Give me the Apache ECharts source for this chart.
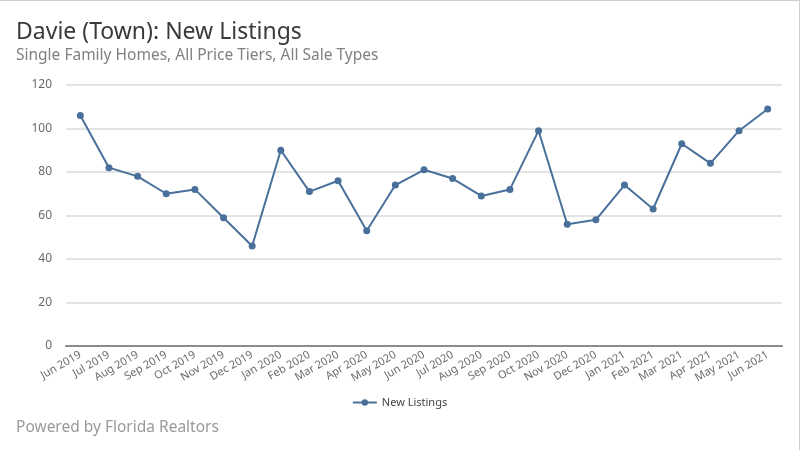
<!DOCTYPE html>
<html>
<head>
<meta charset="utf-8">
<script src="https://cdn.jsdelivr.net/npm/echarts@6/dist/echarts.min.js"></script>
<style>
  html, body { margin: 0; padding: 0; background: #fff; }
  #chart { width: 800px; height: 450px; box-sizing: border-box; border-top: 1px solid #cfcfcf; border-right: 1px solid #cfcfcf; }
</style>
</head>
<body>
<div id="chart"></div>
<script>
// Monthly new listings, Davie (Town), single family homes
const months = [
  'Jun 2019', 'Jul 2019', 'Aug 2019', 'Sep 2019', 'Oct 2019', 'Nov 2019', 'Dec 2019',
  'Jan 2020', 'Feb 2020', 'Mar 2020', 'Apr 2020', 'May 2020', 'Jun 2020', 'Jul 2020',
  'Aug 2020', 'Sep 2020', 'Oct 2020', 'Nov 2020', 'Dec 2020',
  'Jan 2021', 'Feb 2021', 'Mar 2021', 'Apr 2021', 'May 2021', 'Jun 2021'
];
const newListings = [
  106, 82, 78, 70, 72, 59, 46,
  90, 71, 76, 53, 74, 81, 77,
  69, 72, 99, 56, 58,
  74, 63, 93, 84, 99, 109
];
const yTicks = { min: 0, max: 120, interval: 20 };

const FONT = '"Noto Sans", "Open Sans", sans-serif';
const LINE_COLOR = '#48709a';

const chart = echarts.init(document.getElementById('chart'));
chart.setOption({
  animation: false,
  textStyle: { fontFamily: FONT },
  title: [
    {
      text: 'Davie (Town): New Listings',
      left: 11, top: 15,
      textStyle: { fontSize: 23, fontWeight: 'normal', color: '#3a3a3a', fontFamily: FONT }
    },
    {
      text: 'Single Family Homes, All Price Tiers, All Sale Types',
      left: 11, top: 42,
      textStyle: { fontSize: 15.5, fontWeight: 'normal', color: '#808080', fontFamily: FONT }
    },
    {
      text: 'Powered by Florida Realtors',
      left: 11, top: 414,
      textStyle: { fontSize: 15.5, fontWeight: 'normal', color: '#9a9a9a', fontFamily: FONT }
    }
  ],
  legend: {
    data: ['New Listings'],
    left: 'center', top: 391,
    itemWidth: 24, itemHeight: 8,
    textStyle: { fontSize: 11, color: '#444', fontFamily: FONT }
  },
  grid: { left: 66, right: 17, top: 84, bottom: 104, containLabel: false },
  xAxis: {
    type: 'category',
    data: months,
    boundaryGap: true,
    axisLine: { lineStyle: { color: '#8c8c8c', width: 2 } },
    axisTick: { show: false },
    axisLabel: {
      rotate: 30, interval: 0, margin: 8,
      fontSize: 11, color: '#6a6a6a', fontFamily: FONT
    }
  },
  yAxis: {
    type: 'value',
    min: yTicks.min, max: yTicks.max, interval: yTicks.interval,
    axisLine: { show: false },
    axisTick: { show: false },
    splitLine: { lineStyle: { color: '#e3e3e3', width: 2 } },
    axisLabel: { fontSize: 12, color: '#6a6a6a', margin: 14, fontFamily: FONT }
  },
  series: [{
    name: 'New Listings',
    type: 'line',
    data: newListings,
    symbol: 'circle',
    symbolSize: 7,
    lineStyle: { color: LINE_COLOR, width: 2 },
    itemStyle: { color: LINE_COLOR }
  }]
});
</script>
</body>
</html>
